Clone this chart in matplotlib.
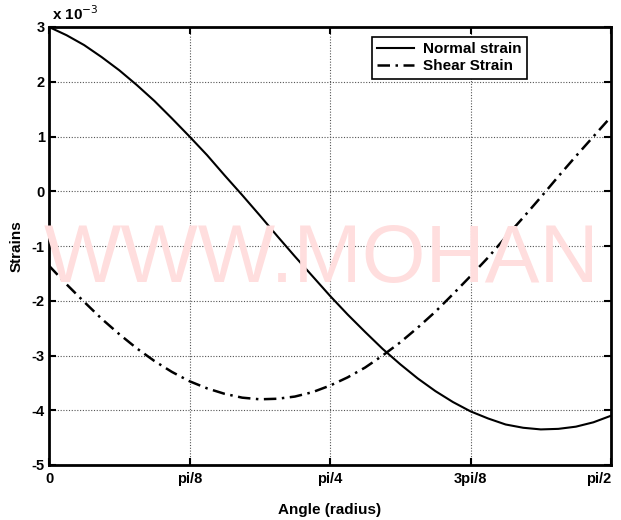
import numpy as np
import matplotlib
matplotlib.use("Agg")
import matplotlib.pyplot as plt
import matplotlib.transforms as mtransforms

# angles: k*pi/64, k = 0..32 (radians)
angle_steps = list(range(33))
normal_strain = [3.00, 2.85, 2.67, 2.45, 2.21, 1.94, 1.65, 1.33, 1.00, 0.66, 0.29,
                 -0.07, -0.44, -0.82, -1.19, -1.55, -1.91, -2.25, -2.57, -2.88, -3.16,
                 -3.42, -3.65, -3.85, -4.02, -4.15, -4.26, -4.32, -4.35, -4.34, -4.30,
                 -4.22, -4.10]
shear_strain = [-1.36, -1.70, -2.02, -2.33, -2.61, -2.87, -3.10, -3.30, -3.47, -3.60, -3.70,
                -3.77, -3.80, -3.79, -3.75, -3.67, -3.55, -3.40, -3.22, -3.00, -2.76,
                -2.49, -2.20, -1.88, -1.55, -1.21, -0.84, -0.48, -0.11, 0.27, 0.64,
                1.00, 1.36]
xtick_labels = ["0", "pi/8", "pi/4", "3pi/8", "pi/2"]
ytick_values = [-5, -4, -3, -2, -1, 0, 1, 2, 3]

theta = np.array(angle_steps) * np.pi / 64

plt.rcParams['font.family'] = ['Liberation Sans', 'DejaVu Sans']

fig = plt.figure(figsize=(6.21, 5.20), dpi=100)
W, H = 621, 520
ax = fig.add_axes([49 / W, (H - 465) / H, 562 / W, 438 / H])

# watermark
fig.text(44 / W, (H - 282) / H, "WWW.MOHAN", fontsize=59, color='#ffdede',
         va='baseline', ha='left', zorder=0, family='Liberation Sans')
ax.set_facecolor('none')

ax.plot(theta, normal_strain, color='black', lw=1.5, label='Normal strain')
ax.plot(theta, shear_strain, color='black', lw=1.8, linestyle=(0, (5, 2.2, 1, 2.2)),
        label='Shear Strain')

ax.set_xlim(0, np.pi / 2)
ax.set_ylim(-5, 3)
ax.set_xticks([0, np.pi / 8, np.pi / 4, 3 * np.pi / 8, np.pi / 2])
ax.set_xticklabels(xtick_labels)
ax.set_yticks(ytick_values)
ax.set_yticklabels([str(v) for v in ytick_values])

for lab in ax.get_xticklabels() + ax.get_yticklabels():
    lab.set_fontweight('bold')
    lab.set_fontsize(10.5)

# keep the last x tick label inside the figure
last = ax.get_xticklabels()[-1]
last.set_horizontalalignment('right')
last.set_transform(last.get_transform() +
                   mtransforms.ScaledTranslation(9 / 100, 0, fig.dpi_scale_trans))

ax.tick_params(direction='in', length=5, width=1.5, top=True, right=True, pad=3)
ax.tick_params(axis='x', pad=5)
for s in ax.spines.values():
    s.set_linewidth(2)

ax.grid(True, linestyle=(0, (1, 1.5)), color='#555555', linewidth=0.8)

ax.set_xlabel("Angle (radius)", fontsize=11, fontweight='bold', labelpad=12)
ax.set_ylabel("Strains", fontsize=11, fontweight='bold', labelpad=6)

ax.text(0.005, 1.008, "x 10$^{-3}$", transform=ax.transAxes, fontsize=11,
        fontweight='bold', ha='left', va='bottom')

leg = ax.legend(loc='upper left', bbox_to_anchor=((372 - 49) / 562, 1 - (37 - 27) / 438),
                borderaxespad=0, frameon=True, fancybox=False, edgecolor='black',
                framealpha=1, prop={'weight': 'bold', 'size': 11}, handlelength=2.4,
                borderpad=0.35, labelspacing=0.2, handletextpad=0.6)
leg.get_frame().set_linewidth(1.2)

fig.savefig("out.png", dpi=100)
